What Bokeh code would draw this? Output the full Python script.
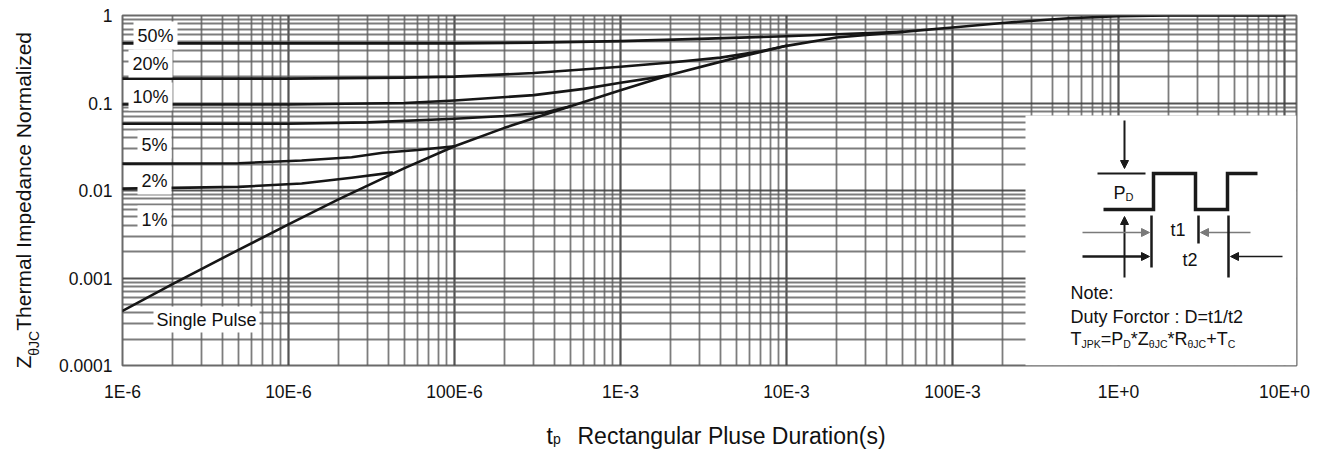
from bokeh.plotting import figure
from bokeh.models import (FixedTicker, CustomJSTickFormatter, Label, BoxAnnotation,
                          Arrow, NormalHead)
from bokeh.embed import file_html
from bokeh.resources import INLINE

# ---------------- data ----------------
x_tick_values = [1e-6, 1e-5, 1e-4, 1e-3, 1e-2, 1e-1, 1.0, 10.0]
x_tick_labels = ["1E-6", "10E-6", "100E-6", "1E-3", "10E-3", "100E-3", "1E+0", "10E+0"]
y_tick_values = [1e-4, 1e-3, 1e-2, 1e-1, 1.0]
y_tick_labels = ["0.0001", "0.001", "0.01", "0.1", "1"]

single_t = [1e-6, 2e-6, 5e-6, 1e-5, 2e-5, 5e-5, 1e-4, 2e-4, 5e-4, 1e-3, 2e-3, 5e-3,
            1e-2, 2e-2, 5e-2, 1e-1, 2e-1, 5e-1, 1.0, 2.0, 5.0, 10.0]
single_z = [0.00042, 0.00085, 0.0021, 0.0041, 0.0079, 0.018, 0.032, 0.052, 0.092, 0.14,
            0.21, 0.33, 0.45, 0.56, 0.65, 0.73, 0.82, 0.93, 0.98, 1.0, 1.0, 1.0]

d50_t = [1e-6, 1e-4, 3e-4, 1e-3, 3e-3, 1e-2, 2e-2, 5e-2]
d50_z = [0.48, 0.48, 0.49, 0.51, 0.54, 0.58, 0.61, 0.65]
d20_t = [1e-6, 1e-5, 5e-5, 1e-4, 3e-4, 1e-3, 2e-3, 4e-3, 7e-3, 1e-2]
d20_z = [0.19, 0.19, 0.195, 0.20, 0.22, 0.26, 0.29, 0.33, 0.39, 0.45]
d10_t = [1e-6, 1e-5, 5e-5, 1e-4, 3e-4, 6e-4, 1e-3, 1.6e-3, 2e-3]
d10_z = [0.096, 0.096, 0.10, 0.107, 0.123, 0.145, 0.17, 0.195, 0.21]
d5_t = [1e-6, 1e-5, 3e-5, 1e-4, 2e-4, 3.5e-4, 5e-4]
d5_z = [0.058, 0.058, 0.06, 0.066, 0.071, 0.078, 0.092]
d2_t = [1e-6, 5e-6, 1.2e-5, 2.4e-5, 3.7e-5, 6e-5, 1e-4]
d2_z = [0.0203, 0.0205, 0.022, 0.024, 0.027, 0.029, 0.032]
d1_t = [1e-6, 5e-6, 1.2e-5, 2.4e-5, 4.2e-5]
d1_z = [0.0105, 0.011, 0.012, 0.014, 0.016]

duty_labels = ["50%", "20%", "10%", "5%", "2%", "1%"]
single_label = "Single Pulse"

# ---------------- layout (page pixels) ----------------
W_PX, H_PX = 1343, 453
FL, FR, FT, FB = 122, 1296, 15, 365
DX = 166.0
DY = (FB - FT) / 4.0
XMAX = 10 ** (-6 + (FR - FL) / DX)
FONT = "Liberation Sans"
INK = "#111111"


def X(px):
    return 10 ** (-6 + (px - FL) / DX)


def Y(py):
    return 10 ** (-(py - FT) / DY)


ARIAL = {" ": 278, "(": 333, ")": 333, "*": 389, "+": 584, "=": 584, ":": 278, "/": 278,
         ".": 278, "%": 889, "-": 333, "θ": 556,
         "A": 667, "B": 667, "C": 722, "D": 722, "E": 667, "F": 611, "G": 778, "H": 722,
         "I": 278, "J": 500, "K": 667, "L": 556, "M": 833, "N": 722, "O": 778, "P": 667,
         "Q": 778, "R": 722, "S": 667, "T": 611, "U": 722, "V": 667, "W": 944, "X": 667,
         "Y": 667, "Z": 611,
         "a": 556, "b": 556, "c": 500, "d": 556, "e": 556, "f": 278, "g": 556, "h": 556,
         "i": 222, "j": 222, "k": 500, "l": 222, "m": 833, "n": 556, "o": 556, "p": 556,
         "q": 556, "r": 333, "s": 500, "t": 278, "u": 556, "v": 500, "w": 722, "x": 500,
         "y": 500, "z": 500}


def text_width(s, size):
    return sum(ARIAL.get(c, 556) for c in s) * size / 1000.0


p = figure(width=W_PX, height=H_PX, x_axis_type="log", y_axis_type="log",
           x_range=(1e-6, XMAX), y_range=(1e-4, 1.0),
           min_border_left=FL, min_border_right=W_PX - FR,
           min_border_top=FT, min_border_bottom=H_PX - FB,
           output_backend="svg", toolbar_location=None)
p.background_fill_color = "white"
p.border_fill_color = "white"
p.outline_line_color = "#6a6a6a"
p.outline_line_width = 2

x_minor = [k * 10.0 ** d for d in range(-6, 2) for k in range(2, 10)]
y_minor = [k * 10.0 ** d for d in range(-4, 1) for k in range(2, 10)]
xt = FixedTicker(ticks=x_tick_values, minor_ticks=x_minor)
yt = FixedTicker(ticks=y_tick_values, minor_ticks=y_minor)
p.xaxis[0].ticker = xt
p.xgrid[0].ticker = xt
p.yaxis[0].ticker = yt
p.ygrid[0].ticker = yt

fmt_code = """
let best = 0, bd = Infinity;
for (let i = 0; i < vals.length; i++) {
  const d = Math.abs(Math.log10(tick) - Math.log10(vals[i]));
  if (d < bd) { bd = d; best = i; }
}
return labs[best];
"""
p.xaxis[0].formatter = CustomJSTickFormatter(args=dict(vals=x_tick_values, labs=x_tick_labels), code=fmt_code)
p.yaxis[0].formatter = CustomJSTickFormatter(args=dict(vals=y_tick_values, labs=y_tick_labels), code=fmt_code)

for g in (p.xgrid[0], p.ygrid[0]):
    g.grid_line_color = "#404040"
    g.grid_line_width = 2.2
    g.grid_line_alpha = 0.9
    g.minor_grid_line_color = "#5c5c5c"
    g.minor_grid_line_width = 1.8
    g.minor_grid_line_alpha = 0.8

for ax in p.axis:
    ax.axis_line_color = None
    ax.major_tick_line_color = None
    ax.minor_tick_line_color = None
    ax.major_tick_in = 0
    ax.major_tick_out = 0
    ax.minor_tick_in = 0
    ax.minor_tick_out = 0
    ax.major_label_text_font = FONT
    ax.major_label_text_font_size = "17.5px"
    ax.major_label_text_color = INK
p.xaxis[0].major_label_standoff = 16
p.yaxis[0].major_label_standoff = 10

# ---------------- curves ----------------
CURVE = "#161616"
for tx, zy in [(d50_t, d50_z), (d20_t, d20_z), (d10_t, d10_z), (d5_t, d5_z),
               (d2_t, d2_z), (d1_t, d1_z), (single_t, single_z)]:
    p.line(tx, zy, line_color=CURVE, line_width=2.6, line_join="round", line_cap="round")

# ---------------- curve labels ----------------
duty_label_px = [(133, 35), (128, 63), (128, 96), (137, 144), (137, 180), (137, 219)]
for txt, (lx, ly) in zip(duty_labels, duty_label_px):
    p.add_layout(Label(x=X(lx), y=Y(ly), text=txt, text_font=FONT, text_font_size="18px",
                       text_color=INK, text_align="left", text_baseline="middle",
                       background_fill_color="white", padding=4))
p.add_layout(Label(x=X(153), y=Y(319), text=single_label, text_font=FONT, text_font_size="18px",
                   text_color=INK, text_align="left", text_baseline="middle",
                   background_fill_color="white", padding=3))

# ---------------- inset box ----------------
p.add_layout(BoxAnnotation(left=X(1025), right=XMAX, bottom=1e-4, top=Y(115),
                           fill_color="white", fill_alpha=1.0, line_color=None))


def rich(parts, px, py, size, sub_size, sub_shift, rotated=False, places=None):
    """Text with subscripts: (px, py) = start of the run, on its middle line."""
    adv = 0.0
    for i, (txt, is_sub) in enumerate(parts):
        fs = sub_size if is_sub else size
        off = sub_shift if is_sub else 0
        if rotated:
            lx, ly = px + off, py - adv
        else:
            lx, ly = px + adv, py + off
        lab = Label(x=X(lx), y=Y(ly), text=txt, angle=(90 if rotated else 0),
                    angle_units="deg", text_align="left", text_baseline="middle",
                    text_font=FONT, text_font_size=f"{fs}px", text_color=INK)
        if places is None:
            p.add_layout(lab)
        else:
            p.add_layout(lab, places[i])
        adv += text_width(txt, fs)


def seg(x0, y0, x1, y1, w, c="#1a1a1a"):
    p.line([X(x0), X(x1)], [Y(y0), Y(y1)], line_color=c, line_width=w, level="overlay")


def arrow(x0, y0, x1, y1, w, c="#1a1a1a"):
    p.add_layout(Arrow(end=NormalHead(size=8, fill_color=c, line_color=c),
                       x_start=X(x0), y_start=Y(y0), x_end=X(x1), y_end=Y(y1),
                       line_color=c, line_width=w))


# pulse diagram
wave_px = [(1103, 209), (1153, 209), (1153, 173), (1195, 173), (1195, 209),
           (1227, 209), (1227, 173), (1257, 173)]
p.line([X(a) for a, b in wave_px], [Y(b) for a, b in wave_px], line_color="#1a1a1a",
       line_width=3.5, line_join="miter", level="overlay")
seg(1097, 173, 1145, 173, 2)
arrow(1124, 120, 1124, 168, 2)
arrow(1124, 277, 1124, 216, 2)
seg(1151, 215, 1151, 267, 2.5)
seg(1198, 215, 1198, 243, 2.5)
seg(1228, 215, 1228, 277, 2.5)
arrow(1082, 232, 1149, 232, 1.5, "#7a7a7a")
arrow(1250, 232, 1200, 232, 1.5, "#7a7a7a")
arrow(1082, 256, 1149, 256, 2.5)
arrow(1282, 256, 1230, 256, 1.5)
rich([("P", 0), ("D", 1)], 1113, 192.5, 18, 11, 4)
for txt, lx, ly in [("t1", 1170, 229), ("t2", 1182, 259),
                    ("Note:", 1070, 292), ("Duty Forctor : D=t1/t2", 1070, 316)]:
    p.add_layout(Label(x=X(lx), y=Y(ly), text=txt, text_font=FONT, text_font_size="18px",
                       text_color=INK, text_align="left", text_baseline="middle"))
rich([("T", 0), ("JPK", 1), ("=P", 0), ("D", 1), ("*Z", 0), ("θJC", 1), ("*R", 0),
      ("θJC", 1), ("+T", 0), ("C", 1)], 1070, 338.5, 18, 10.5, 4.5)

# ---------------- axis titles ----------------
# Placed in side panels (not clipped to the frame); spread over the panels so that
# each side stays within its border size.
rich([("t", 0), ("p", 1)], 546, 435, 23, 14, 3.5, places=["left", "right"])
p.add_layout(Label(x=X(577), y=Y(435), text="Rectangular Pluse Duration(s)",
                   text_font=FONT, text_font_size="23px", text_color=INK,
                   text_align="left", text_baseline="middle"), "below")
rich([("Z", 0), ("θJC", 1), (" Thermal Impedance Normalized", 0)], 23, 368, 21, 14, 10,
     rotated=True, places=["right", "left", "left"])

open("out.html", "w").write(file_html(p, INLINE))
